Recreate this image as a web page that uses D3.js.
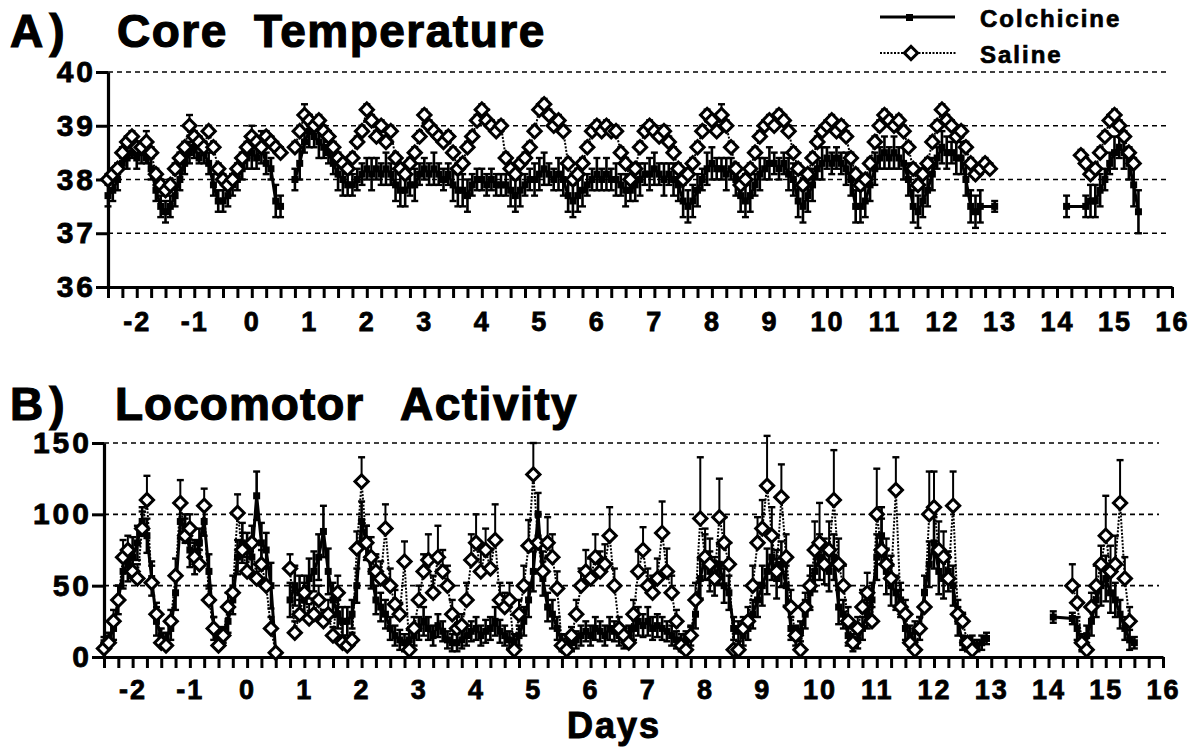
<!DOCTYPE html>
<html>
<head>
<meta charset="utf-8">
<script src="https://cdnjs.cloudflare.com/ajax/libs/d3/7.8.5/d3.min.js"></script>
<style>
body { margin: 0; background: #fff; }
text { font-family: "Liberation Sans", Arial, Helvetica, sans-serif; font-weight: bold; fill: #000; }
</style>
</head>
<body>
<script>
var width = 1189, height = 749;

// sampling: one mean every 2 hours, starting at day -2.5
var startDay = -2.5, stepDays = 1 / 12;
// recording blocks (lines are broken between them)
var segments = [[-2.5, 0.5], [0.75, 12.92], [14.0, 15.5]];

var dayLabels = [-2, -1, 0, 1, 2, 3, 4, 5, 6, 7, 8, 9, 10, 11, 12, 13, 14, 15, 16];
var tempTicks = [36, 37, 38, 39, 40];
var tempGrid = [37, 38, 39, 40];
var actTicks = [0, 50, 100, 150];
var actGrid = [50, 100, 150];

// A) core temperature, colchicine (one row = one day, starting at x.5)
var tempColch = [
  37.7,37.8,38.0,38.3,38.4,38.5,38.4,38.5,38.4,38.2,37.8,37.5,
  37.4,37.5,37.7,38.0,38.3,38.5,38.6,38.4,38.5,38.3,37.9,37.6,
  37.6,37.7,37.9,38.0,38.2,38.4,38.5,38.4,38.6,38.3,38.2,37.6,
  37.5,null,null,38.0,38.3,38.7,38.9,38.8,38.7,38.6,38.5,38.3,
  38.1,38.0,37.9,37.9,38.0,38.1,38.2,38.1,38.2,38.1,38.2,38.1,
  37.9,37.8,37.8,37.9,37.9,38.1,38.2,38.1,38.2,38.1,38.0,38.1,
  37.9,37.8,37.8,37.7,37.9,38.0,38.0,37.9,38.0,37.9,37.9,37.9,
  37.8,37.7,37.8,37.9,38.0,38.0,38.1,38.2,38.1,38.0,38.1,38.0,
  37.7,37.6,37.7,37.8,37.9,38.0,38.1,38.0,38.1,38.0,38.0,37.9,
  37.8,37.8,37.9,38.0,38.1,38.1,38.2,38.1,38.0,38.1,38.0,37.9,
  37.6,37.5,37.6,37.8,38.0,38.2,38.3,38.2,38.2,38.1,38.2,38.0,
  37.7,37.6,37.7,37.9,38.1,38.2,38.3,38.3,38.2,38.3,38.1,38.0,
  37.6,37.5,37.7,37.9,38.2,38.3,38.4,38.3,38.4,38.3,38.2,38.0,
  37.5,37.5,37.6,37.9,38.2,38.4,38.5,38.4,38.5,38.4,38.3,38.0,
  37.5,37.4,37.6,37.8,38.1,38.4,38.6,38.5,38.5,38.4,38.4,38.0,
  37.5,37.4,37.5,null,null,37.5,null,null,null,null,null,null,
  null,null,null,null,null,null,null,null,37.5,null,null,null,
  37.5,37.6,37.6,37.8,38.0,38.3,38.5,38.6,38.5,38.3,37.9,37.4,
  null
];
var tempColchErr = [
  .2,.2,.2,.1,.2,.1,.2,.2,.1,.2,.2,.2,
  .2,.2,.2,.2,.2,.2,.2,.1,.2,.2,.2,.2,
  .2,.2,.2,.2,.2,.2,.3,.2,.3,.2,.2,.3,
  .2,null,null,.2,.3,.2,.3,.2,.3,.2,.2,.2,
  .3,.3,.2,.2,.2,.2,.2,.3,.2,.2,.3,.2,
  .3,.3,.3,.2,.3,.2,.2,.2,.3,.2,.2,.2,
  .3,.3,.3,.3,.2,.2,.2,.2,.2,.2,.2,.2,
  .3,.3,.3,.2,.2,.3,.3,.3,.2,.2,.3,.3,
  .3,.3,.3,.3,.2,.2,.3,.2,.3,.2,.3,.2,
  .3,.2,.3,.3,.2,.3,.3,.2,.3,.2,.3,.3,
  .3,.3,.3,.3,.2,.3,.3,.2,.2,.3,.2,.3,
  .3,.3,.3,.2,.3,.2,.3,.2,.2,.2,.3,.3,
  .3,.3,.3,.3,.2,.3,.2,.2,.2,.2,.3,.3,
  .3,.3,.3,.3,.3,.2,.3,.2,.3,.2,.3,.3,
  .3,.3,.3,.3,.3,.2,.3,.3,.2,.3,.3,.3,
  .3,.3,.3,null,null,.1,null,null,null,null,null,null,
  null,null,null,null,null,null,null,null,.2,null,null,null,
  .2,.3,.3,.3,.2,.2,.3,.2,.3,.3,.4,.4,
  null
];
// A) core temperature, saline
var tempSal = [
  38.0,38.1,38.2,38.5,38.7,38.8,38.6,38.6,38.7,38.5,38.1,37.9,
  37.8,37.9,38.2,38.4,38.6,39.0,38.8,38.7,38.6,38.9,38.6,38.2,
  38.0,37.9,38.0,38.2,38.4,38.6,38.8,38.7,38.6,38.8,38.7,38.6,
  38.5,null,null,38.6,38.9,39.2,39.1,39.0,39.1,38.9,38.8,38.6,
  38.4,38.3,38.2,38.4,38.7,38.9,39.3,39.1,38.8,39.0,38.7,38.9,
  38.4,38.2,38.1,38.3,38.5,38.8,39.2,39.0,38.9,38.8,38.7,38.8,
  38.5,38.2,38.3,38.6,38.8,39.1,39.3,39.1,39.0,38.9,39.0,38.4,
  38.2,38.1,38.3,38.4,38.6,38.9,39.3,39.4,39.2,39.0,39.1,38.9,
  38.3,38.0,38.1,38.3,38.6,38.9,39.0,38.9,39.0,38.9,38.9,38.5,
  38.3,38.0,38.2,38.6,38.9,39.0,38.9,38.8,38.9,38.7,38.5,38.2,
  38.0,38.1,38.3,38.6,38.9,39.2,39.1,38.9,39.2,39.0,38.6,38.2,
  37.9,38.0,38.2,38.5,38.8,39.0,39.1,39.0,39.2,39.1,38.9,38.5,
  38.2,37.9,38.1,38.4,38.7,38.9,39.0,39.1,38.9,39.0,38.8,38.4,
  38.1,37.9,38.0,38.3,38.7,39.0,39.2,39.1,39.0,39.1,38.9,38.6,
  38.2,37.9,38.1,38.3,38.7,39.0,39.3,39.1,39.0,38.8,38.9,38.6,
  38.3,38.1,38.2,38.3,38.2,null,null,null,null,null,null,null,
  null,null,null,null,null,null,null,null,null,null,null,38.45,
  38.3,38.1,38.2,38.5,38.8,39.1,39.2,39.0,38.8,38.5,38.3,null,
  null
];
var tempSalErr = [
  .1,.1,.1,.1,.1,.1,.1,.1,.2,.1,.1,.1,
  .1,.1,.1,.1,.1,.2,.1,.1,.1,.1,.1,.1,
  .1,.1,.1,.1,.1,.1,.2,.1,.2,.1,.1,.1,
  .1,null,null,.1,.1,.2,.1,.1,.1,.1,.1,.1,
  .1,.1,.1,.1,.1,.1,.1,.1,.1,.1,.1,.1,
  .1,.1,.1,.1,.1,.1,.1,.1,.1,.1,.1,.1,
  .1,.1,.1,.1,.1,.1,.1,.2,.1,.1,.1,.1,
  .1,.1,.1,.1,.1,.1,.1,.1,.1,.1,.1,.1,
  .1,.1,.1,.1,.1,.1,.1,.1,.1,.1,.1,.1,
  .1,.1,.1,.1,.1,.1,.1,.1,.1,.1,.1,.1,
  .1,.1,.1,.1,.1,.1,.1,.1,.2,.1,.1,.1,
  .1,.1,.1,.1,.1,.1,.1,.1,.1,.1,.1,.1,
  .1,.1,.1,.1,.1,.1,.1,.1,.1,.1,.1,.1,
  .1,.1,.1,.1,.1,.1,.1,.1,.1,.1,.1,.1,
  .1,.1,.1,.1,.1,.1,.1,.1,.1,.1,.1,.1,
  .1,.1,.1,.1,.1,null,null,null,null,null,null,null,
  null,null,null,null,null,null,null,null,null,null,null,.1,
  .1,.1,.1,.1,.1,.1,.1,.1,.1,.1,.1,null,
  null
];

// B) locomotor activity, colchicine
var actColch = [
  10,12,20,40,60,65,70,80,95,85,55,25,
  15,12,20,45,95,90,75,70,80,95,60,20,
  12,15,25,40,70,80,75,70,113,80,75,50,
  3,null,null,40,50,45,40,55,60,70,88,60,
  40,30,25,25,30,50,95,80,60,40,35,30,
  20,15,12,10,12,15,20,25,20,15,22,18,
  12,10,10,12,15,18,20,15,18,20,25,18,
  15,12,10,15,25,40,60,100,55,35,30,20,
  10,8,10,12,15,18,15,20,18,15,20,18,
  15,12,15,20,25,22,25,20,22,20,18,15,
  12,10,12,15,30,55,70,60,55,65,50,45,
  20,18,15,20,30,40,50,60,70,55,65,50,
  20,15,18,30,45,60,70,65,60,70,35,30,
  15,10,12,20,30,40,70,85,60,50,45,40,
  20,15,18,20,45,65,80,60,55,60,50,25,
  10,8,10,8,10,13,null,null,null,null,null,null,
  null,null,null,null,null,null,null,28,null,null,null,27,
  20,10,15,25,40,50,55,45,40,30,20,12,
  10
];
var actColchErr = [
  4,5,8,10,12,12,14,12,10,12,12,10,
  5,5,8,12,12,10,12,12,10,10,12,8,
  5,5,8,10,12,14,12,12,17,14,12,16,
  2,null,null,12,14,12,12,14,14,16,18,16,
  12,10,10,10,10,12,14,12,12,10,10,10,
  8,7,7,6,7,7,8,10,8,7,8,7,
  6,6,6,6,7,7,8,7,8,8,10,8,
  7,6,6,7,10,12,14,15,12,10,10,8,
  6,5,6,6,7,7,7,8,7,7,8,7,
  7,6,7,8,10,8,10,8,8,8,7,7,
  6,6,6,7,10,14,16,14,12,14,12,12,
  8,7,7,8,10,12,14,16,16,14,16,14,
  8,7,7,10,12,14,16,14,14,16,12,10,
  7,6,6,8,10,12,16,20,16,14,12,12,
  8,7,7,8,12,16,18,16,14,14,14,10,
  5,4,5,4,5,4,null,null,null,null,null,null,
  null,null,null,null,null,null,null,4,null,null,null,4,
  8,6,7,10,12,14,16,14,12,10,8,7,
  4
];
// B) locomotor activity, saline
var actSal = [
  6,10,25,40,70,75,60,55,90,110,52,30,
  10,8,25,57,108,85,90,70,65,106,40,20,
  8,15,35,45,101,75,60,80,55,65,50,20,
  3,null,null,62,17,30,45,27,30,40,25,30,
  15,45,10,8,12,76,123,80,70,60,55,90,
  50,37,30,67,5,20,40,60,68,45,70,60,
  50,30,20,22,40,68,80,60,75,62,82,40,
  35,40,5,30,50,78,128,80,60,80,70,48,
  8,5,15,30,50,60,55,70,60,65,85,50,
  20,15,10,30,60,75,50,45,55,87,60,45,
  25,8,5,15,40,97,70,65,55,98,80,65,
  5,5,20,25,50,80,90,120,85,60,112,70,
  35,15,5,35,50,75,80,65,75,110,65,50,
  25,10,20,35,45,25,100,75,65,55,117,35,
  30,10,5,20,35,100,105,75,70,55,106,30,
  25,10,5,null,null,null,null,null,null,null,null,null,
  null,null,null,null,null,null,null,null,null,null,null,50,
  38,10,5,35,50,65,85,60,65,108,55,25,
  null
];
var actSalErr = [
  3,5,8,10,12,10,10,10,12,17,12,8,
  4,4,8,12,16,12,10,10,10,12,10,8,
  4,6,10,12,13,12,10,12,10,10,12,8,
  2,null,null,10,8,10,12,10,8,10,8,10,
  6,12,4,4,5,12,17,12,14,12,12,17,
  12,10,8,14,3,8,10,12,18,12,22,15,
  14,10,8,8,12,18,20,14,15,14,25,12,
  10,12,3,10,14,18,22,20,14,18,16,12,
  4,3,6,10,12,15,14,16,14,14,20,12,
  8,6,5,10,14,16,12,12,14,22,16,12,
  8,4,3,6,12,43,20,18,15,27,18,15,
  3,3,8,10,14,18,20,35,20,15,23,16,
  12,6,3,10,14,20,28,18,20,35,18,14,
  10,4,8,12,14,10,32,22,18,16,23,12,
  10,4,3,8,12,30,25,20,18,15,24,10,
  6,4,3,null,null,null,null,null,null,null,null,null,
  null,null,null,null,null,null,null,null,null,null,null,15,
  12,4,3,10,14,13,28,18,20,30,15,10,
  null
];

var svg = d3.select("body").append("svg")
    .attr("width", width)
    .attr("height", height)
    .style("background", "#fff");

function points(vals, errs) {
  return vals.map(function(v, i) {
    return {day: startDay + i * stepDays, v: v, e: errs[i]};
  });
}

function drawPanel(opt) {
  var x = d3.scaleLinear().domain([-2.5, 16]).range(opt.xRange);
  var y = d3.scaleLinear().domain(opt.yDomain).range(opt.yRange);
  var g = svg.append("g");

  // dashed reference lines
  g.selectAll(".grid").data(opt.grid).enter().append("line")
   .attr("x1", x(-2.5)).attr("x2", x(16) - 4)
   .attr("y1", function(d) { return y(d); })
   .attr("y2", function(d) { return y(d); })
   .style("stroke", "#000").style("stroke-width", 1.7)
   .style("stroke-dasharray", "5,4");

  // axes
  var yAxis = g.append("g")
     .attr("transform", "translate(" + x(-2.5) + ",0)")
     .call(d3.axisLeft(y).tickValues(opt.yTicks).tickSize(12).tickSizeOuter(0).tickPadding(0).tickFormat(d3.format("d")));
  var xAxis = g.append("g")
     .attr("transform", "translate(0," + y(opt.yDomain[0]) + ")")
     .call(d3.axisBottom(x).tickValues(d3.range(-2.5, 16.001, 0.25)).tickSize(11).tickSizeOuter(0)
           .tickPadding(opt.xPad)
           .tickFormat(function(d) { return dayLabels.indexOf(d) >= 0 ? String(d) : ""; }));
  [yAxis, xAxis].forEach(function(a) {
    a.select(".domain").style("stroke", "#000").style("stroke-width", 3.2);
    a.selectAll(".tick line").style("stroke", "#000").style("stroke-width", 3);
    a.selectAll("text").style("font-family", "'Liberation Sans', Arial, sans-serif")
     .style("font-weight", "bold").style("fill", "#000")
     .style("stroke", "#000").style("stroke-width", 0.8);
  });
  yAxis.selectAll("text").style("font-size", "30px").style("letter-spacing", "3px");
  xAxis.selectAll("text").style("font-size", "27px").style("letter-spacing", "2px");

  var colch = points(opt.colch, opt.colchErr);
  var sal = points(opt.sal, opt.salErr);
  var line = d3.line().x(function(d) { return x(d.day); }).y(function(d) { return y(d.v); });

  function inSeg(d, s) { return d.v != null && d.day >= s[0] - 1e-6 && d.day <= s[1] + 1e-6; }

  // colchicine: error bars both ways, solid line, filled squares
  var cd = colch.filter(function(d) { return d.v != null; });
  var ce = g.append("g");
  ce.selectAll("line.bar").data(cd).enter().append("line")
    .attr("x1", function(d) { return x(d.day); }).attr("x2", function(d) { return x(d.day); })
    .attr("y1", function(d) { return y(d.v - d.e); }).attr("y2", function(d) { return y(d.v + d.e); })
    .style("stroke", "#000").style("stroke-width", 2.6);
  ce.selectAll("line.top").data(cd).enter().append("line")
    .attr("x1", function(d) { return x(d.day) - 3.5; }).attr("x2", function(d) { return x(d.day) + 3.5; })
    .attr("y1", function(d) { return y(d.v + d.e); }).attr("y2", function(d) { return y(d.v + d.e); })
    .style("stroke", "#000").style("stroke-width", 2.4);
  ce.selectAll("line.bot").data(cd).enter().append("line")
    .attr("x1", function(d) { return x(d.day) - 3.5; }).attr("x2", function(d) { return x(d.day) + 3.5; })
    .attr("y1", function(d) { return y(d.v - d.e); }).attr("y2", function(d) { return y(d.v - d.e); })
    .style("stroke", "#000").style("stroke-width", 2.4);
  segments.forEach(function(s) {
    g.append("path").datum(colch.filter(function(d) { return inSeg(d, s); }))
     .attr("d", line).style("fill", "none").style("stroke", "#000").style("stroke-width", 3);
  });
  g.selectAll("rect.colch").data(cd).enter().append("rect")
   .attr("x", function(d) { return x(d.day) - 3.5; }).attr("y", function(d) { return y(d.v) - 3.5; })
   .attr("width", 7).attr("height", 7).style("fill", "#000");

  // saline: dotted line, upward error bars, open diamonds
  var sd = sal.filter(function(d) { return d.v != null; });
  segments.forEach(function(s) {
    g.append("path").datum(sal.filter(function(d) { return inSeg(d, s); }))
     .attr("d", line).style("fill", "none").style("stroke", "#000").style("stroke-width", 2)
     .style("stroke-dasharray", "2,1.5");
  });
  g.selectAll("line.sbar").data(sd).enter().append("line")
   .attr("x1", function(d) { return x(d.day); }).attr("x2", function(d) { return x(d.day); })
   .attr("y1", function(d) { return y(d.v); }).attr("y2", function(d) { return y(d.v + d.e); })
   .style("stroke", "#000").style("stroke-width", 2);
  g.selectAll("line.scap").data(sd).enter().append("line")
   .attr("x1", function(d) { return x(d.day) - 3.5; }).attr("x2", function(d) { return x(d.day) + 3.5; })
   .attr("y1", function(d) { return y(d.v + d.e); }).attr("y2", function(d) { return y(d.v + d.e); })
   .style("stroke", "#000").style("stroke-width", 2.4);
  var diamond = d3.symbol().type(d3.symbolSquare).size(88);
  g.selectAll("path.sal").data(sd).enter().append("path")
   .attr("d", diamond)
   .attr("transform", function(d) { return "translate(" + x(d.day) + "," + y(d.v) + ") rotate(45)"; })
   .style("fill", "#fff").style("stroke", "#000").style("stroke-width", 3);
}

drawPanel({
  xRange: [108, 1172], yDomain: [36, 40], yRange: [287, 72],
  grid: tempGrid, yTicks: tempTicks, xPad: 14,
  colch: tempColch, colchErr: tempColchErr, sal: tempSal, salErr: tempSalErr
});
drawPanel({
  xRange: [104, 1163], yDomain: [0, 150], yRange: [657, 443],
  grid: actGrid, yTicks: actTicks, xPad: 12,
  colch: actColch, colchErr: actColchErr, sal: actSal, salErr: actSalErr
});

// titles
function title(txt, xPos, yPos, size, spacing) {
  svg.append("text").text(txt).attr("x", xPos).attr("y", yPos)
     .style("font-size", size + "px").style("letter-spacing", spacing + "px")
     .style("stroke", "#000").style("stroke-width", 1.2);
}
title("A)", 10, 47, 46, 6);
title("Core", 117, 47, 46, 1.5);
title("Temperature", 254, 47, 46, 1.5);
title("B)", 10, 420, 46, 6);
title("Locomotor", 115, 420, 46, 1);
title("Activity", 400, 420, 46, 1.5);
svg.append("text").text("Days").attr("x", 614).attr("y", 738)
   .attr("text-anchor", "middle").style("font-size", "36px").style("letter-spacing", "2px")
   .style("stroke", "#000").style("stroke-width", 1);

// legend
var legend = svg.append("g");
legend.append("line").attr("x1", 880).attr("x2", 955).attr("y1", 17).attr("y2", 17)
      .style("stroke", "#000").style("stroke-width", 2.8);
legend.append("rect").attr("x", 906).attr("y", 14).attr("width", 7).attr("height", 7).style("fill", "#000");
legend.append("line").attr("x1", 880).attr("x2", 957).attr("y1", 53).attr("y2", 53)
      .style("stroke", "#000").style("stroke-width", 2.2).style("stroke-dasharray", "2,1.5");
legend.append("path").attr("d", d3.symbol().type(d3.symbolSquare).size(88))
      .attr("transform", "translate(911,53) rotate(45)")
      .style("fill", "#fff").style("stroke", "#000").style("stroke-width", 3);
legend.append("text").text("Colchicine").attr("x", 980).attr("y", 27)
      .style("font-size", "24px").style("letter-spacing", "2px")
      .style("stroke", "#000").style("stroke-width", 0.7);
legend.append("text").text("Saline").attr("x", 980).attr("y", 63)
      .style("font-size", "24px").style("letter-spacing", "2px")
      .style("stroke", "#000").style("stroke-width", 0.7);
</script>
</body>
</html>
